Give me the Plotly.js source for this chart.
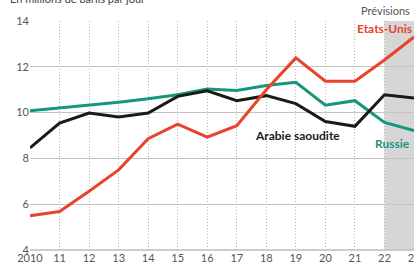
<!DOCTYPE html>
<html>
<head>
<meta charset="utf-8">
<script src="https://cdn.plot.ly/plotly-3.0.1.min.js"></script>
<style>html,body{margin:0;padding:0;background:#fff;overflow:hidden}#chart{width:414px;height:268px}</style>
</head>
<body>
<div id="chart"></div>
<script>
const years = [2010, 2011, 2012, 2013, 2014, 2015, 2016, 2017, 2018, 2019, 2020, 2021, 2022, 2023];
const tickLabels = ["2010", "11", "12", "13", "14", "15", "16", "17", "18", "19", "20", "21", "22", "23"];
const usa = [5.5, 5.68, 6.57, 7.5, 8.86, 9.5, 8.93, 9.43, 11.0, 12.39, 11.37, 11.37, 12.3, 13.3];
const saudi = [8.46, 9.54, 9.98, 9.81, 9.98, 10.71, 10.95, 10.52, 10.74, 10.39, 9.61, 9.4, 10.78, 10.64];
const russia = [10.08, 10.2, 10.32, 10.45, 10.6, 10.78, 11.03, 10.97, 11.18, 11.32, 10.32, 10.52, 9.57, 9.22];
const forecastStart = 2022, forecastEnd = 2023;

const FONT = "Lato, 'Open Sans', sans-serif";
const RED = "#e8432b", TEAL = "#17967c", BLACK = "#1c1a17";

const traces = [
  {x: years, y: russia, mode: "lines", line: {color: TEAL, width: 3}, name: "Russie"},
  {x: years, y: saudi, mode: "lines", line: {color: BLACK, width: 3}, name: "Arabie saoudite"},
  {x: years, y: usa, mode: "lines", line: {color: RED, width: 3}, name: "Etats-Unis"}
];

const layout = {
  width: 414, height: 268,
  margin: {l: 30, r: 0, t: 21, b: 18, pad: 0},
  paper_bgcolor: "#fff", plot_bgcolor: "#fff",
  showlegend: false,
  font: {family: FONT, size: 11, color: "#555"},
  xaxis: {
    range: [2010, 2023], tickmode: "array", tickvals: years, ticktext: tickLabels,
    showgrid: true, gridcolor: "#b8b8b8", griddash: "1px,2px", gridwidth: 1,
    showline: false, zeroline: false, ticks: "", ticklen: 0, ticklabeloverflow: "allow",
    tickfont: {family: FONT, size: 11, color: "#555"}, fixedrange: true
  },
  yaxis: {
    range: [4, 14], tickvals: [4, 6, 8, 10, 12, 14],
    showgrid: true, gridcolor: "#c4c4c4", gridwidth: 1,
    showline: false, zeroline: false, ticks: "", ticklen: 0,
    tickfont: {family: FONT, size: 11, color: "#555"}, fixedrange: true
  },
  shapes: [
    {type: "rect", xref: "x", yref: "paper", x0: forecastStart, x1: forecastEnd, y0: 0, y1: 1,
     fillcolor: "#d6d6d6", line: {width: 0}, layer: "below"},
    {type: "line", xref: "paper", yref: "paper", x0: 0, x1: 1, y0: 0, y1: 0,
     line: {color: "#bdbdbd", width: 1.5}}
  ],
  annotations: [
    {text: "En millions de barils par jour", xref: "paper", yref: "paper", x: -0.057, y: 1.097,
     xanchor: "left", yanchor: "middle", showarrow: false, font: {family: FONT, size: 11, color: "#444"}},
    {text: "Prévisions", xref: "paper", yref: "paper", x: 0.995, y: 1.048,
     xanchor: "right", yanchor: "middle", showarrow: false, font: {family: FONT, size: 11, color: "#555"}},
    {text: "<b>Etats-Unis</b>", xref: "paper", yref: "paper", x: 1.0, y: 0.969,
     xanchor: "right", yanchor: "middle", showarrow: false, font: {family: FONT, size: 12, color: RED}},
    {text: "<b>Arabie saoudite</b>", xref: "paper", yref: "paper", x: 0.581, y: 0.498,
     xanchor: "left", yanchor: "middle", showarrow: false, font: {family: FONT, size: 12, color: BLACK}},
    {text: "<b>Russie</b>", xref: "paper", yref: "paper", x: 0.893, y: 0.467,
     xanchor: "left", yanchor: "middle", showarrow: false, font: {family: FONT, size: 12, color: TEAL}}
  ]
};

Plotly.newPlot("chart", traces, layout, {staticPlot: true, displayModeBar: false});
</script>
</body>
</html>
